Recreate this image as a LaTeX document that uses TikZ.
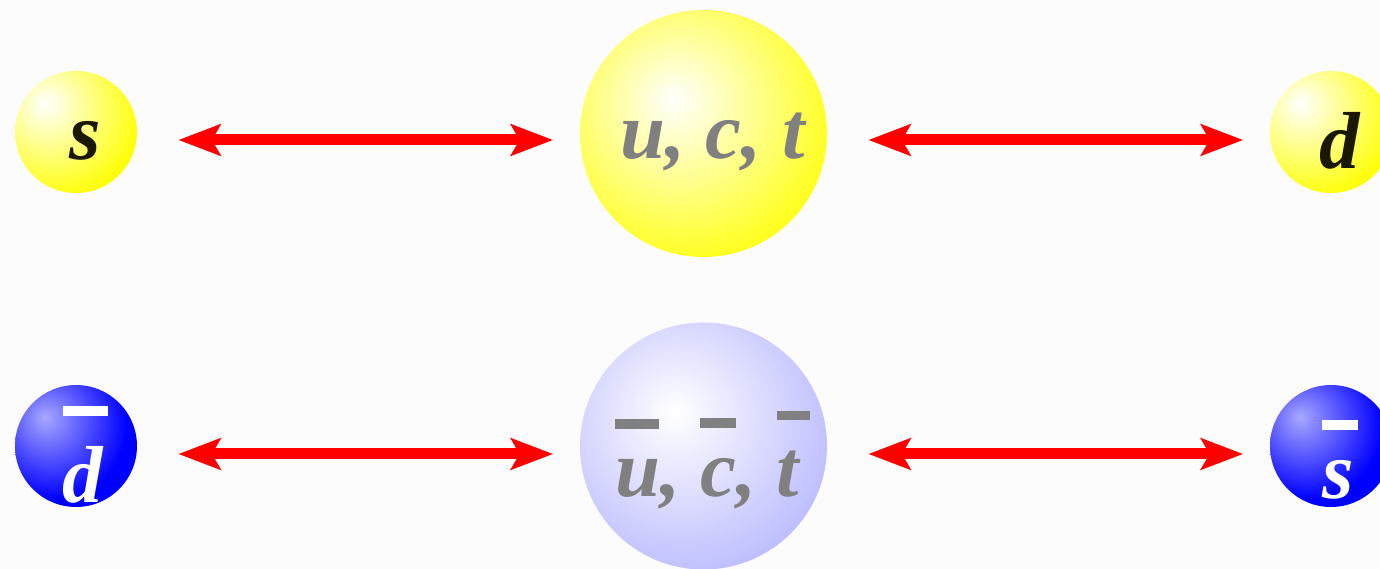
\documentclass[tikz,border=0pt]{standalone}
\usepackage{fontspec}
\setmainfont{Liberation Serif}
\usetikzlibrary{arrows.meta}
\definecolor{bgcolor}{RGB}{252,252,252}
\definecolor{quarkgray}{RGB}{128,128,128}
\definecolor{quarkink}{RGB}{26,24,0}
\definecolor{arrowred}{RGB}{255,0,0}
\definecolor{palerim}{RGB}{176,176,255}
\definecolor{bluehi}{RGB}{168,168,255}
\definecolor{bluerim}{RGB}{0,0,255}
% shading radius of a node is 25bp
\pgfdeclareradialshading{yellowsmall}{\pgfpoint{-13bp}{12bp}}{color(0bp)=(white); color(36bp)=(yellow); color(100bp)=(yellow)}
\pgfdeclareradialshading{yellowbig}{\pgfpoint{-6bp}{7bp}}{color(0bp)=(white); color(35bp)=(yellow); color(100bp)=(yellow)}
\pgfdeclareradialshading{palebig}{\pgfpoint{-6bp}{7bp}}{color(0bp)=(white); color(38bp)=(palerim); color(100bp)=(palerim)}
\pgfdeclareradialshading{bluesmall}{\pgfpoint{-13bp}{12bp}}{color(0bp)=(bluehi); color(30bp)=(bluerim); color(100bp)=(bluerim)}
% bar over an antiquark letter
\newcommand{\qbar}[2]{\vbox{\offinterlineskip\hbox{\rule{#1}{0.19cm}}\kern0.62cm\hbox{#2}}}

\begin{document}
\begin{tikzpicture}[
    >={Stealth[length=0.84cm, width=0.62cm, inset=0.17cm]},
    small/.style={circle, minimum size=2.44cm, inner sep=0pt},
    big/.style={circle, minimum size=4.94cm, inner sep=0pt},
    qlabel/.style={inner sep=0pt, xshift=0.18cm, yshift=-0.18cm, font=\fontsize{46}{46}\selectfont\bfseries\itshape},
    barlabel/.style={qlabel, yshift=-0.1cm},
    mixing/.style={arrowred, line width=0.22cm, <->, shorten <=0.82cm, shorten >=0.53cm}
]

% Background
\fill[bgcolor] (0,0) rectangle (27.6,11.38);
\useasboundingbox (0,0) rectangle (27.6,11.38);

% Row positions
\def\rowTop{8.74}
\def\rowBot{2.46}

% Quarks
\node[small, shading=yellowsmall, label={[qlabel, text=quarkink]center:s}] (s) at (1.52, \rowTop) {};
\node[big, shading=yellowbig, label={[qlabel, text=quarkgray]center:u, c, t}] (uct) at (14.07, 8.71) {};
\node[small, shading=yellowsmall, label={[qlabel, text=quarkink]center:d}] (d) at (26.62, \rowTop) {};

% Antiquarks
\node[small, shading=bluesmall, label={[qlabel, text=white]center:\qbar{0.9cm}{d}}] (dbar) at (1.52, \rowBot) {};
\node[big, shading=palebig, label={[barlabel, text=quarkgray]center:\qbar{0.88cm}{u}, \qbar{0.72cm}{c}, \qbar{0.66cm}{t}}] (uctbar) at (14.07, \rowBot) {};
\node[small, shading=bluesmall, label={[barlabel, text=white]center:\qbar{0.72cm}{s}}] (sbar) at (26.62, \rowBot) {};

% Mixing arrows
\draw[mixing] ([yshift=-0.16cm]s.east) -- ([yshift=-0.13cm]uct.west);
\draw[mixing] ([yshift=-0.13cm]uct.east) -- ([yshift=-0.16cm]d.west);
\draw[mixing] ([yshift=-0.16cm]dbar.east) -- ([yshift=-0.16cm]uctbar.west);
\draw[mixing] ([yshift=-0.16cm]uctbar.east) -- ([yshift=-0.16cm]sbar.west);

\end{tikzpicture}
\end{document}
